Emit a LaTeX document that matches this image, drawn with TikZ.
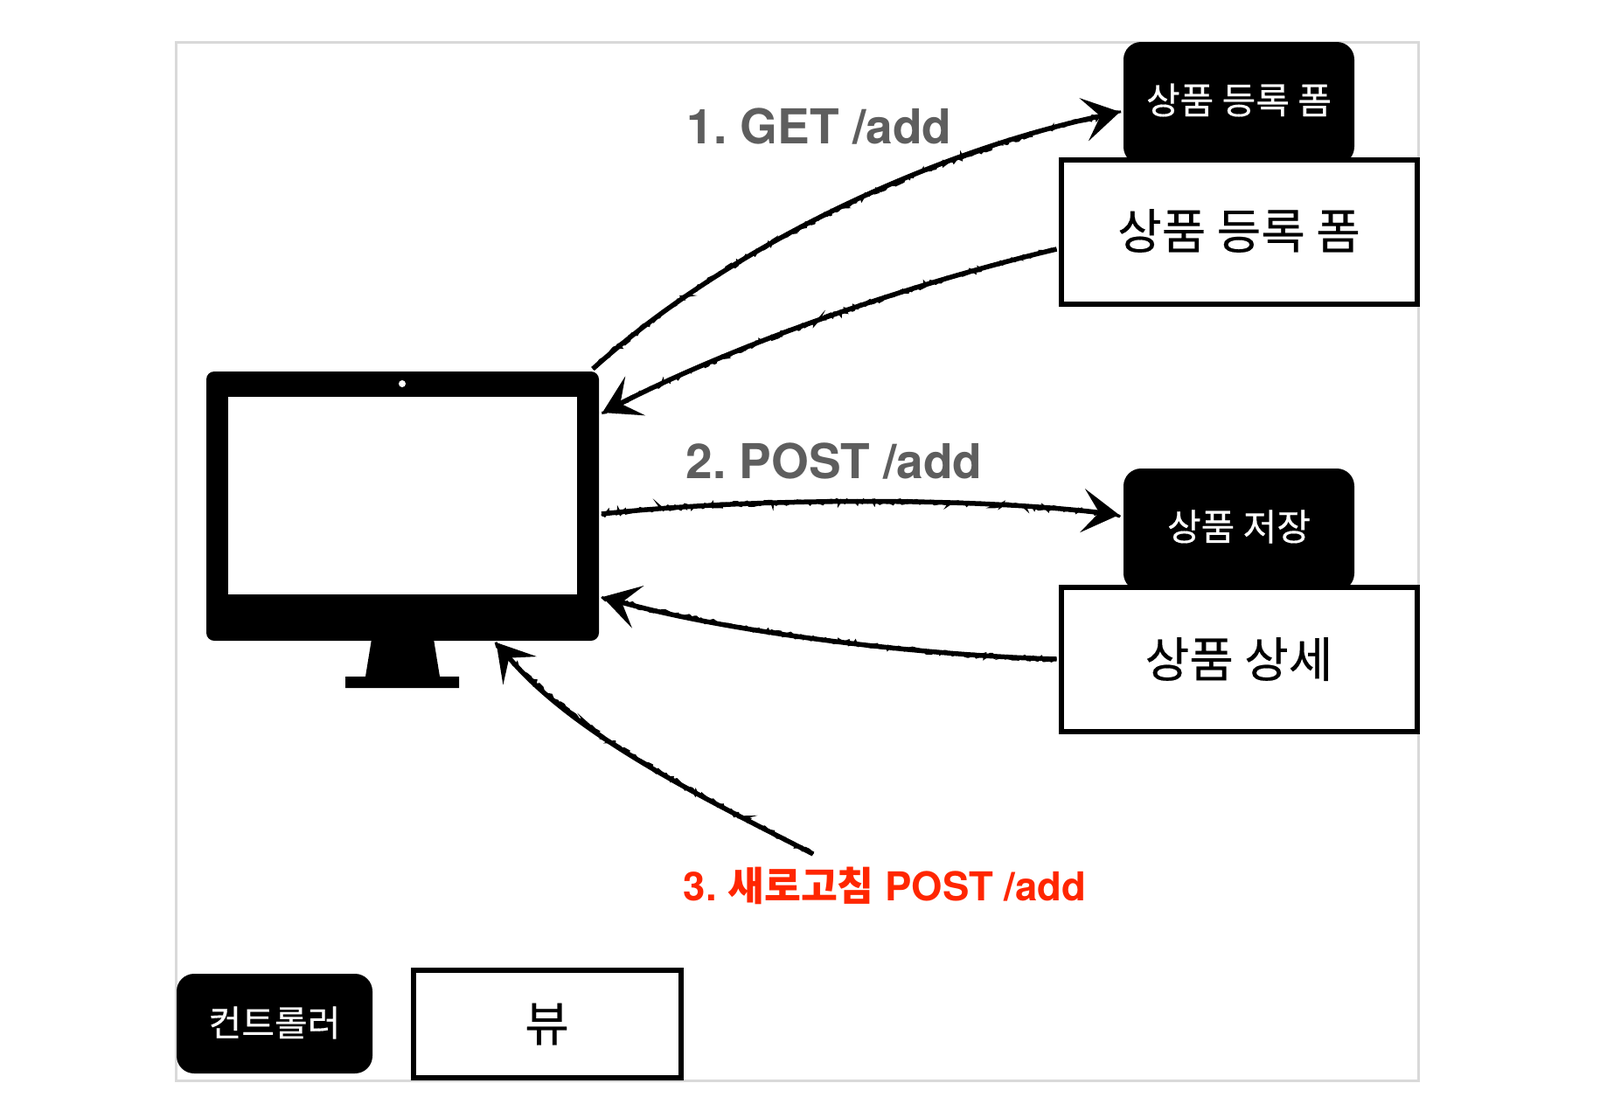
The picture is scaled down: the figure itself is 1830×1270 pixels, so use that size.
\documentclass[tikz,border=0pt]{standalone}
\usepackage{fontspec}
\setmainfont{TeX Gyre Heros}
\newfontfamily\cjk[FakeBold=0.35]{Noto Sans CJK KR}
\newfontfamily\cjkb{Noto Sans CJK KR Bold}
\usetikzlibrary{arrows.meta,decorations.pathmorphing}
\definecolor{framegray}{HTML}{D9D9D9}
\definecolor{labelgray}{HTML}{5E5E5E}
\definecolor{labelred}{HTML}{FF2600}
\newcommand{\fs}[1]{\fontsize{#1}{#1}\selectfont}
\newcommand{\up}[2]{\raisebox{#1}[\height][\depth]{#2}}
\frenchspacing
\tikzset{
  x=1pt,y=-1pt,
  ctrl/.style={rectangle,fill=black,text=white,rounded corners=20pt,inner sep=0pt,outer sep=0pt,font=\cjk\fs{42}},
  viewbox/.style={rectangle,draw=black,fill=white,line width=6pt,inner sep=0pt,outer sep=0pt,font=\cjk\fs{55}},
  steplabel/.style={inner sep=0pt,font=\bfseries\fs{55},text=labelgray},
  sketch/.style={line width=5.5pt,draw=black,
    -{Stealth[length=42pt,width=50pt,inset=19pt]},
    postaction={draw,-,line width=3pt,decorate,
      decoration={random steps,segment length=3pt,amplitude=2.5pt}}},
}
\begin{document}
\begin{tikzpicture}
\useasboundingbox (0,0) rectangle (1830,1270);
\fill[white] (0,0) rectangle (1830,1270);
\node[rectangle,draw=framegray,line width=3pt,minimum width=1421pt,minimum height=1188pt,inner sep=0pt,outer sep=0pt] (frame) at (911.5,642) {};
% monitor
\fill[black] (426,725) -- (495,725) -- (503,774) -- (525,774) -- (525,787) -- (395,787) -- (395,774) -- (418,774) -- cycle;
\node[rectangle,fill=black,rounded corners=9pt,minimum width=449pt,minimum height=308pt,inner sep=0pt,outer sep=0pt] (mon) at (460.5,579) {};
\node[rectangle,fill=white,minimum width=399pt,minimum height=226pt,inner sep=0pt,outer sep=0pt] (screen) at (460,567) {};
\node[circle,fill=white,minimum size=8pt,inner sep=0pt] (cam) at (460,439) {};
% boxes
\node[ctrl,minimum width=264pt,minimum height=140pt] (c1) at (1417,118) {\up{3.5pt}{상품 등록 폼}};
\node[viewbox,minimum width=407pt,minimum height=165pt] (v1) at (1417,265) {\up{1pt}{상품 등록 폼}};
\node[ctrl,minimum width=264pt,minimum height=140pt] (c2) at (1417,606) {\up{3.5pt}{상품 저장}};
\node[viewbox,minimum width=407pt,minimum height=165pt] (v2) at (1417,754) {상품 상세};
\node[ctrl,minimum width=224pt,minimum height=114pt,font=\cjk\fs{41}] (c3) at (314,1171) {\up{1pt}{컨트롤러}};
\node[viewbox,minimum width=306pt,minimum height=123pt] (v3) at (625.5,1171.5) {뷰};
% labels
\node[steplabel] (l1) at (937,145) {1. GET /add};
\node[steplabel] (l2) at (954,527) {2. POST /add};
\node[inner sep=0pt,text=labelred,font=\bfseries\fs{45.5}] (l3) at (1012,1013) {3. {\cjkb 새로고침} POST /add};
% connectors
\coordinate (s5) at (930,977);
\draw[sketch] ([shift={(-7,-3)}]mon.north east) .. controls (830,285) and (1060,175) .. ([shift={(-4,10)}]c1.west);
\draw[sketch] ([shift={(-5,20)}]v1.west) .. controls (1060,320) and (860,385) .. ([shift={(4,-107)}]mon.east);
\draw[sketch] ([shift={(3,9)}]mon.east) .. controls (850,570) and (1100,568) .. ([shift={(-5,-17)}]c2.west);
\draw[sketch] ([xshift=-5pt]v2.west) .. controls (1060,750) and (840,725) .. ([shift={(4,104)}]mon.east);
\draw[sketch] (s5) .. controls (820,920) and (660,845) .. ([shift={(107,2)}]mon.south);
\end{tikzpicture}
\end{document}
